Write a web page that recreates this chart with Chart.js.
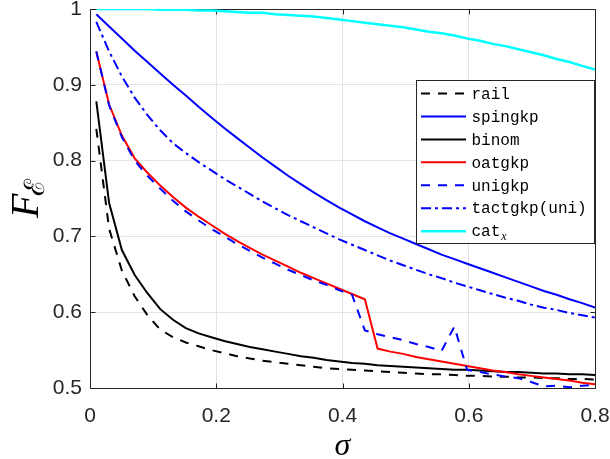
<!DOCTYPE html>
<html>
<head>
<meta charset="utf-8">
<script src="https://cdn.jsdelivr.net/npm/chart.js@4.4.0/dist/chart.umd.min.js"></script>
<style>
  html, body { margin: 0; padding: 0; background: #ffffff; }
  canvas { display: block; }
</style>
</head>
<body>
<canvas id="chart" width="610" height="459"></canvas>
<script>
// Noise level sigma (40 samples from 0.01 to 0.8)
const sigma = [0.0100, 0.0303, 0.0505, 0.0708, 0.0910, 0.1113, 0.1315, 0.1518, 0.1721, 0.1923,
               0.2126, 0.2328, 0.2531, 0.2733, 0.2936, 0.3138, 0.3341, 0.3544, 0.3746, 0.3949,
               0.4151, 0.4354, 0.4556, 0.4759, 0.4962, 0.5164, 0.5367, 0.5569, 0.5772, 0.5974,
               0.6177, 0.6379, 0.6582, 0.6785, 0.6987, 0.7190, 0.7392, 0.7595, 0.7797, 0.8000];

// Fidelity F_E for each protocol
const rail = [0.842, 0.710, 0.655, 0.621, 0.596, 0.577, 0.567, 0.560, 0.555, 0.550,
              0.546, 0.542, 0.539, 0.536, 0.534, 0.532, 0.530, 0.528, 0.526, 0.525,
              0.524, 0.523, 0.522, 0.521, 0.520, 0.519, 0.518, 0.518, 0.517, 0.516,
              0.516, 0.515, 0.515, 0.514, 0.514, 0.513, 0.513, 0.512, 0.512, 0.511];
const spingkp = [0.993, 0.977, 0.961, 0.945, 0.930, 0.915, 0.900, 0.886, 0.871, 0.857,
                 0.843, 0.830, 0.817, 0.804, 0.792, 0.780, 0.769, 0.758, 0.748, 0.738,
                 0.729, 0.720, 0.712, 0.704, 0.697, 0.690, 0.683, 0.676, 0.670, 0.664,
                 0.658, 0.652, 0.646, 0.640, 0.634, 0.628, 0.623, 0.617, 0.612, 0.606];
const binom = [0.878, 0.744, 0.682, 0.649, 0.625, 0.604, 0.590, 0.579, 0.572, 0.567,
               0.562, 0.558, 0.554, 0.551, 0.548, 0.545, 0.542, 0.540, 0.537, 0.535,
               0.533, 0.532, 0.530, 0.529, 0.528, 0.527, 0.526, 0.525, 0.524, 0.524,
               0.523, 0.522, 0.521, 0.521, 0.520, 0.519, 0.519, 0.518, 0.518, 0.517];
const oatgkp = [0.944, 0.874, 0.833, 0.803, 0.784, 0.767, 0.752, 0.738, 0.726, 0.715,
                0.704, 0.694, 0.685, 0.676, 0.668, 0.660, 0.652, 0.645, 0.638, 0.631,
                0.624, 0.617, 0.552, 0.548, 0.545, 0.541, 0.538, 0.535, 0.532, 0.529,
                0.526, 0.523, 0.521, 0.518, 0.516, 0.514, 0.512, 0.510, 0.507, 0.505];
const unigkp = [0.944, 0.873, 0.831, 0.800, 0.780, 0.763, 0.747, 0.733, 0.721, 0.710,
                0.700, 0.690, 0.681, 0.672, 0.664, 0.656, 0.649, 0.642, 0.636, 0.629,
                0.623, 0.576, 0.571, 0.567, 0.563, 0.558, 0.554, 0.549, 0.581, 0.524,
                0.521, 0.518, 0.515, 0.513, 0.508, 0.502, 0.503, 0.501, 0.503, 0.504];
const tactgkp = [0.983, 0.944, 0.911, 0.883, 0.860, 0.840, 0.823, 0.810, 0.798, 0.787,
                 0.776, 0.766, 0.756, 0.746, 0.737, 0.728, 0.720, 0.712, 0.704, 0.696,
                 0.689, 0.682, 0.675, 0.668, 0.662, 0.656, 0.650, 0.645, 0.639, 0.634,
                 0.629, 0.624, 0.619, 0.615, 0.610, 0.606, 0.603, 0.599, 0.596, 0.593];
const catx = [1.000, 1.000, 1.000, 1.000, 1.000, 0.999, 0.999, 0.999, 0.998, 0.998,
              0.997, 0.996, 0.995, 0.995, 0.993, 0.992, 0.991, 0.990, 0.988, 0.986,
              0.984, 0.982, 0.980, 0.978, 0.976, 0.973, 0.970, 0.968, 0.965, 0.961,
              0.958, 0.954, 0.951, 0.947, 0.943, 0.939, 0.934, 0.930, 0.925, 0.920];

const seriesNames = ['rail', 'spingkp', 'binom', 'oatgkp', 'unigkp', 'tactgkp(uni)', 'cat'];
const xTickValues = [0, 0.2, 0.4, 0.6, 0.8];
const xTickLabels = ['0', '0.2', '0.4', '0.6', '0.8'];
const yTickValues = [0.5, 0.6, 0.7, 0.8, 0.9, 1];
const yTickLabels = ['0.5', '0.6', '0.7', '0.8', '0.9', '1'];

const seriesValues = [rail, spingkp, binom, oatgkp, unigkp, tactgkp, catx];

// Line styles, in plotting order
const styles = [
  { color: '#000000', width: 2,   dash: [9, 8] },
  { color: '#0000ff', width: 2,   dash: [] },
  { color: '#000000', width: 2,   dash: [] },
  { color: '#ff0000', width: 2,   dash: [] },
  { color: '#0000ff', width: 2,   dash: [9, 8] },
  { color: '#0000ff', width: 2,   dash: [10, 4, 3, 4] },
  { color: '#00ffff', width: 2.5, dash: [] }
];

const AXIS_COLOR = '#262626';

const datasets = seriesValues.map((vals, i) => ({
  label: seriesNames[i],
  data: sigma.map((s, k) => ({ x: s, y: vals[k] })),
  borderColor: styles[i].color,
  backgroundColor: styles[i].color,
  borderWidth: styles[i].width,
  borderDash: styles[i].dash,
  pointRadius: 0,
  tension: 0,
  fill: false,
  order: seriesValues.length - i   // later series are drawn on top
}));

function crisp(v) { return Math.round(v) + 0.5; }

// Box, inward tick marks, axis titles and the legend
const decorations = {
  id: 'decorations',
  beforeDatasetsDraw(chart) {
    const { ctx, chartArea: a, scales } = chart;
    const L = crisp(a.left), R = crisp(a.right), T = crisp(a.top), B = crisp(a.bottom);
    ctx.save();
    ctx.strokeStyle = AXIS_COLOR;
    ctx.lineWidth = 1;
    ctx.beginPath();
    ctx.rect(L, T, R - L, B - T);
    const tl = 5;
    xTickValues.forEach(v => {
      const x = crisp(scales.x.getPixelForValue(v));
      ctx.moveTo(x, B); ctx.lineTo(x, B - tl);
      ctx.moveTo(x, T); ctx.lineTo(x, T + tl);
    });
    yTickValues.forEach(v => {
      const y = crisp(scales.y.getPixelForValue(v));
      ctx.moveTo(L, y); ctx.lineTo(L + tl, y);
      ctx.moveTo(R, y); ctx.lineTo(R - tl, y);
    });
    ctx.stroke();
    ctx.restore();
  },
  afterDraw(chart) {
    const { ctx, chartArea: a } = chart;
    ctx.save();
    ctx.fillStyle = '#000000';

    // x-axis title: sigma
    ctx.font = 'italic 32px "Liberation Serif"';
    ctx.textAlign = 'center';
    ctx.textBaseline = 'alphabetic';
    ctx.fillText('\u03c3', (a.left + a.right) / 2, 455);

    // y-axis title: F with calligraphic E subscript, rotated
    ctx.save();
    ctx.translate(38, 218);
    ctx.rotate(-Math.PI / 2);
    ctx.textAlign = 'left';
    ctx.font = 'italic 40px "Liberation Serif"';
    ctx.fillText('F', 0, 0);
    const fw = ctx.measureText('F').width;
    ctx.font = '28px "DejaVu Serif"';
    ctx.fillText('\u2130', fw - 2, 6);
    ctx.restore();

    // legend
    const lx = 416.5, ly = 80.5, lw = 178, lh = 163;
    ctx.fillStyle = '#ffffff';
    ctx.fillRect(lx, ly, lw, lh);
    ctx.strokeStyle = AXIS_COLOR;
    ctx.lineWidth = 1;
    ctx.strokeRect(lx, ly, lw, lh);
    const rowStep = 22.95;
    chart.data.datasets.forEach((ds, i) => {
      const y = 93.5 + i * rowStep;
      ctx.save();
      ctx.strokeStyle = ds.borderColor;
      ctx.lineWidth = ds.borderWidth;
      ctx.setLineDash(ds.borderDash);
      ctx.beginPath();
      ctx.moveTo(421, y);
      ctx.lineTo(466, y);
      ctx.stroke();
      ctx.restore();
      ctx.fillStyle = '#000000';
      ctx.font = '16px "Liberation Mono"';
      ctx.textAlign = 'left';
      ctx.textBaseline = 'middle';
      ctx.fillText(ds.label, 471.5, y + 1);
      if (i === seriesNames.length - 1) {
        const w = ctx.measureText(ds.label).width;
        ctx.font = 'italic 12px "Liberation Serif"';
        ctx.fillText('x', 471.5 + w + 1, y + 6);
      }
    });
    ctx.restore();
  }
};

new Chart(document.getElementById('chart'), {
  type: 'line',
  data: { datasets },
  options: {
    responsive: false,
    devicePixelRatio: 1,
    animation: false,
    events: [],
    layout: { padding: { left: 0, right: 15, top: 9, bottom: 0 } },
    plugins: { legend: { display: false }, tooltip: { enabled: false } },
    scales: {
      x: {
        type: 'linear',
        min: 0, max: 0.8,
        afterFit(scale) {
          scale.height = 71;
          scale.paddingLeft = 0; scale.paddingRight = 0;
        },
        afterBuildTicks(scale) { scale.ticks = xTickValues.map(v => ({ value: v })); },
        border: { display: false },
        grid: { color: '#e3e3e3', lineWidth: 1, drawTicks: false },
        ticks: {
          padding: 16,
          color: AXIS_COLOR,
          font: { family: '"Liberation Sans", Arial, sans-serif', size: 21 },
          maxRotation: 0,
          callback: v => xTickLabels[xTickValues.findIndex(t => Math.abs(t - v) < 1e-9)]
        }
      },
      y: {
        type: 'linear',
        min: 0.5, max: 1,
        afterFit(scale) {
          scale.width = 90;
          scale.paddingTop = 0; scale.paddingBottom = 0;
        },
        afterBuildTicks(scale) { scale.ticks = yTickValues.map(v => ({ value: v })); },
        border: { display: false },
        grid: { color: '#e3e3e3', lineWidth: 1, drawTicks: false },
        ticks: {
          padding: 8,
          color: AXIS_COLOR,
          font: { family: '"Liberation Sans", Arial, sans-serif', size: 21 },
          callback: v => yTickLabels[yTickValues.findIndex(t => Math.abs(t - v) < 1e-9)]
        }
      }
    }
  },
  plugins: [decorations]
});
</script>
</body>
</html>
